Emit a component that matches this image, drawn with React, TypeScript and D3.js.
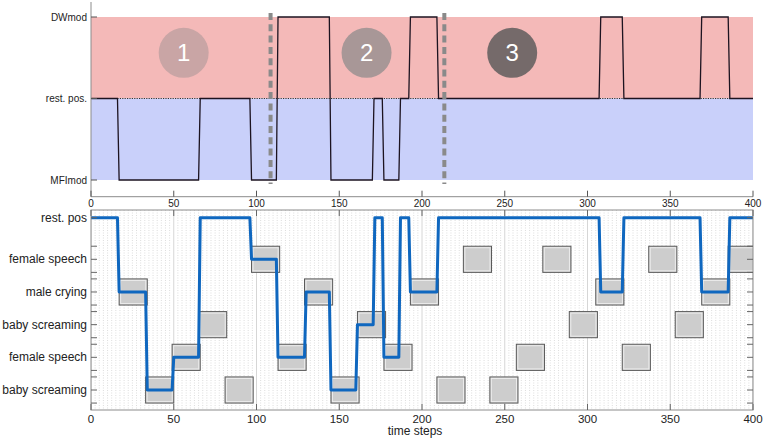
import React from 'react';
import * as d3 from 'd3';

// ---------- data ----------
const topTimes = [0, 16, 17, 65, 66, 96, 97, 112, 113, 144, 145, 170, 171, 176, 177, 186, 187, 192, 193, 209, 210, 307, 308, 321, 322, 368, 369, 385, 386, 400];
const topStates = [0, 0, -1, -1, 0, 0, -1, -1, 1, 1, -1, -1, 0, 0, -1, -1, 0, 0, 1, 1, 0, 0, 1, 1, 0, 0, 1, 1, 0, 0];
const topLevelLabels = ['MFImod', 'rest. pos.', 'DWmod'];
const topLevelValues = [-1, 0, 1];

const phaseBoundaries = [108.5, 213.5];
const phaseLabels = ['1', '2', '3'];
const phaseCenters = [56, 166.5, 254.5];
const phaseY = 0.56;
const phaseColors = ['#c9a5a5', '#a89797', '#756a6a'];

const levelLabels = ['baby screaming', 'female speech', 'baby screaming', 'male crying', 'female speech', 'rest. pos'];
const levelValues = [1, 2, 3, 4, 5, 6.273];

const boxStarts = [17, 33, 49, 65, 81, 97, 113, 129, 145, 161, 177, 193, 209, 225, 241, 257, 273, 289, 305, 321, 337, 353, 369, 385];
const boxLevels = [4, 1, 2, 3, 1, 5, 2, 4, 1, 3, 2, 4, 1, 5, 1, 2, 5, 3, 4, 2, 5, 3, 4, 5];
const boxWidth = 17;
const boxHalfHeight = 0.4;

const REST = 6.273;
const pathTimes = [0, 16, 17, 33, 34, 49, 50, 65, 66, 96, 97, 112, 113, 129, 130, 144, 145, 160, 161, 170.5, 171.5, 176, 177, 186, 187, 192, 193, 209, 210, 307, 308, 321, 322, 368, 369, 385, 386, 400];
const pathLevels = [REST, REST, 4, 4, 1, 1, 2, 2, REST, REST, 5, 5, 2, 2, 4, 4, 1, 1, 3, 3, REST, REST, 2, 2, REST, REST, 4, 4, REST, REST, 4, 4, REST, REST, 4, 4, REST, REST];

const xTicks = [0, 50, 100, 150, 200, 250, 300, 350, 400];
const xLabel = 'time steps';

// ---------- layout ----------
const W = 765;
const H = 441;
const X0 = 91;
const X1 = 753;
const FONT = '"Liberation Sans", Arial, Helvetica, sans-serif';

export default function App() {
  const x = d3.scaleLinear().domain([0, 400]).range([X0, X1]);
  const yTop = d3.scaleLinear().domain([-1, 1]).range([180, 17]);
  const yBot = d3.scaleLinear().domain([1, 5]).range([390, 259.3]);
  const botTop = 210;
  const botBottom = 410;
  const topAxisY = 196.7;

  const topLine = d3
    .line<number>()
    .x((_, i) => x(topTimes[i]))
    .y((d) => yTop(d));
  const botLine = d3
    .line<number>()
    .x((_, i) => x(pathTimes[i]))
    .y((d) => yBot(d));

  const minorTicks = d3.range(2.5, 400, 2.5).filter((v) => v % 50 !== 0);

  const levelTicks: number[] = [];
  levelValues.slice(0, 5).forEach((v) => {
    levelTicks.push(v - boxHalfHeight, v, v + boxHalfHeight);
  });
  levelTicks.push(REST);

  return (
    <div style={{ position: 'absolute', left: 0, top: 0 }}>
      <svg width={W} height={H} style={{ display: 'block', fontFamily: FONT }}>
        <defs>
          <clipPath id="botclip">
            <rect x={X0} y={botTop} width={X1 - X0} height={botBottom - botTop} />
          </clipPath>
        </defs>
        <rect x={0} y={0} width={W} height={H} fill="#fff" />

        {/* ---------- top panel ---------- */}
        <rect x={x(0)} y={yTop(1)} width={x(400) - x(0)} height={yTop(0) - yTop(1)} fill="#f4b9b8" />
        <rect x={x(0)} y={yTop(0)} width={x(400) - x(0)} height={yTop(-1) - yTop(0)} fill="#c9d0fa" />
        <line x1={x(0)} x2={x(400)} y1={yTop(0)} y2={yTop(0)} stroke="#333" strokeWidth={1} strokeDasharray="1.2,1.2" />

        {phaseCenters.map((c, i) => (
          <g key={'ph' + i}>
            <circle cx={x(c)} cy={yTop(phaseY)} r={25} fill={phaseColors[i]} />
            <text x={x(c)} y={yTop(phaseY) + 8.5} textAnchor="middle" fontSize={24} fill="#fff">
              {phaseLabels[i]}
            </text>
          </g>
        ))}

        <path d={topLine(topStates) || ''} fill="none" stroke="#1c1320" strokeWidth={1.3} />

        {phaseBoundaries.map((b, i) => (
          <line key={'pb' + i} x1={x(b)} x2={x(b)} y1={13} y2={184} stroke="#8a8a8a" strokeWidth={4} strokeDasharray="7,4.3" />
        ))}

        {/* top axes */}
        <line x1={X0} x2={X0} y1={2} y2={topAxisY} stroke="#8c8c8c" strokeWidth={1} />
        <line x1={X0} x2={X1} y1={topAxisY} y2={topAxisY} stroke="#8c8c8c" strokeWidth={1} />
        {topLevelValues.map((v, i) => (
          <g key={'tl' + i}>
            <line x1={X0} x2={X0 + 6} y1={yTop(v)} y2={yTop(v)} stroke="#555" strokeWidth={1} />
            <text x={X0 - 4} y={yTop(v) + 3.5} textAnchor="end" fontSize={10} fill="#222">
              {topLevelLabels[i]}
            </text>
          </g>
        ))}
        {xTicks.map((t) => (
          <g key={'tx' + t}>
            <line x1={x(t)} x2={x(t)} y1={topAxisY} y2={topAxisY - 6} stroke="#555" strokeWidth={1} />
            <text x={x(t)} y={topAxisY + 10.5} textAnchor="middle" fontSize={10} fill="#222">
              {t}
            </text>
          </g>
        ))}

        {/* ---------- bottom panel ---------- */}
        <g clipPath="url(#botclip)">
          {minorTicks.map((t) => (
            <line key={'mg' + t} x1={x(t)} x2={x(t)} y1={botTop} y2={botBottom} stroke="#d4d4d4" strokeWidth={0.8} strokeDasharray="1,1.5" />
          ))}
          {xTicks.map((t) => (
            <line key={'Mg' + t} x1={x(t)} x2={x(t)} y1={botTop} y2={botBottom} stroke="#d6d6d6" strokeWidth={1} />
          ))}
          {boxStarts.map((s, i) => {
            const bx = x(s);
            const bw = x(s + boxWidth) - x(s);
            const by = yBot(boxLevels[i] + boxHalfHeight);
            const bh = yBot(boxLevels[i] - boxHalfHeight) - by;
            return (
              <g key={'bx' + i}>
                <rect x={bx} y={by} width={bw} height={bh} fill="#cdcdcd" stroke="#5a5a5a" strokeWidth={1} />
                <rect x={bx + 1.5} y={by + 1.5} width={bw - 3} height={bh - 3} fill="none" stroke="#ececec" strokeWidth={1} />
              </g>
            );
          })}
          <path d={botLine(pathLevels) || ''} fill="none" stroke="#0f67bf" strokeWidth={3} strokeLinejoin="round" />
        </g>

        <rect x={X0} y={botTop} width={X1 - X0} height={botBottom - botTop} fill="none" stroke="#8c8c8c" strokeWidth={1} />
        {levelTicks.map((v, i) => (
          <g key={'lt' + i}>
            <line x1={X0} x2={X0 + 6} y1={yBot(v)} y2={yBot(v)} stroke="#666" strokeWidth={1} />
            <line x1={X1} x2={X1 - 6} y1={yBot(v)} y2={yBot(v)} stroke="#666" strokeWidth={1} />
          </g>
        ))}
        {levelValues.map((v, i) => (
          <text key={'ll' + i} x={X0 - 4} y={yBot(v) + 4} textAnchor="end" fontSize={12} fill="#222">
            {levelLabels[i]}
          </text>
        ))}
        {xTicks.map((t) => (
          <g key={'bt' + t}>
            <line x1={x(t)} x2={x(t)} y1={botBottom} y2={botBottom - 6} stroke="#666" strokeWidth={1} />
            <line x1={x(t)} x2={x(t)} y1={botTop} y2={botTop + 6} stroke="#666" strokeWidth={1} />
            <text x={x(t)} y={botBottom + 12.5} textAnchor="middle" fontSize={11.5} fill="#222">
              {t}
            </text>
          </g>
        ))}
        <text x={(X0 + X1) / 2 - 7} y={435} textAnchor="middle" fontSize={12} fill="#222">
          {xLabel}
        </text>
      </svg>
    </div>
  );
}
